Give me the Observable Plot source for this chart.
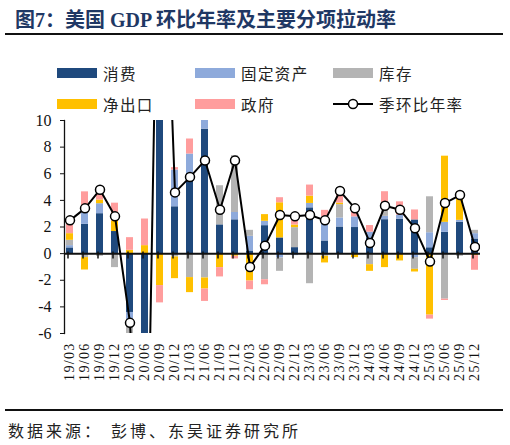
<!DOCTYPE html>
<html>
<head>
<meta charset="utf-8">
<script src="https://cdn.jsdelivr.net/npm/d3@7"></script>
<script src="https://cdn.jsdelivr.net/npm/@observablehq/plot@0.6"></script>
<style>
  html, body { margin: 0; padding: 0; background: #fff; }
  #page { position: relative; width: 510px; height: 445px; overflow: hidden; font-family: "Liberation Serif", "Noto Sans CJK SC", serif; color: #111; }
  #title { position: absolute; left: 15px; top: 4px; font-size: 20px; font-weight: bold; color: #1f3864; white-space: nowrap; }
  .rule { position: absolute; left: 5px; width: 498px; height: 2px; background: #111; }
  #legend { position: absolute; left: 57px; top: 57px; display: grid; grid-template-columns: 138px 138px 138px; grid-auto-rows: 31px; }
  .item { display: flex; align-items: center; font-family: "Noto Sans CJK SC", sans-serif; font-size: 15.5px; letter-spacing: 1.4px; color: #222; white-space: nowrap; }
  .sw { width: 40px; height: 10px; margin-right: 6px; flex: none; }
  #chart { position: absolute; left: 0; top: 110px; }
  #source { position: absolute; left: 8px; top: 418px; font-family: "Noto Sans CJK SC", sans-serif; font-size: 16px; letter-spacing: 3px; color: #222; white-space: nowrap; }
  #source span { margin-left: 8px; }
</style>
</head>
<body>
<div id="page">
  <div id="title">图7：美国 GDP 环比年率及主要分项拉动率</div>
  <div class="rule" style="top:33px"></div>
  <div id="legend"></div>
  <div id="chart"></div>
  <div class="rule" style="top:409px"></div>
  <div id="source">数据来源：<span>彭博、东吴证券研究所</span></div>
</div>
<script>
// Quarter labels (yy/mm)
const quarters = ["19/03","19/06","19/09","19/12","20/03","20/06","20/09","20/12",
  "21/03","21/06","21/09","21/12","22/03","22/06","22/09","22/12",
  "23/03","23/06","23/09","23/12","24/03","24/06","24/09","24/12",
  "25/03","25/06","25/09","25/12"];

// Contributions to annualized q/q real GDP growth, percentage points
const consumption = [0.43, 2.2, 3.0, 1.66, -4.42, -23.8, 25.2, 3.52,
  5.6, 9.35, 2.16, 2.54, 0.2, 2.1, 1.18, 0.45,
  3.44, 0.95, 2.0, 1.96, 1.18, 2.55, 2.59, 2.53,
  0.44, 1.6, 2.35, 1.1];
const fixedInvestment = [0.17, 0.88, 0.75, 0, -0.55, -5.3, 5.0, 2.76,
  1.88, 1.2, 0, 0.55, 1.1, 0.33, -0.33, -0.15,
  0.33, 1.8, 0.68, 0.8, 0.43, 0.25, 0.3, -0.3,
  1.13, 0.75, 0.15, 0.4];
const inventories = [0.4, -0.3, -0.2, -1.05, -1.43, -1.5, 8.3, -0.25,
  -1.8, -1.83, 2.94, 4.27, 0.45, -1.96, -1.0, 1.5,
  -2.26, -0.2, 1.0, 0, -0.83, 0.8, 0, -0.88,
  2.7, -3.42, -0.2, 0.25];
const netExports = [0.5, -0.93, 0.28, 0.8, 0.25, 0.6, -2.4, -1.63,
  -1.13, -0.83, -1.05, -0.2, -2.06, 0.5, 2.64, 0.2,
  0.55, -0.5, 0.12, -0.3, -0.5, -1.05, -0.55, -0.2,
  -4.62, 4.97, 2.1, -0.15];
const government = [0.95, 1.56, 0.95, 1.33, 0.95, 2.0, -1.3, 0.18,
  1.13, -0.93, -0.7, -0.2, -0.65, -0.38, 0.38, 0.75,
  0.83, 0.5, 0.85, 0.9, 0.5, 1.05, 1.0, 0.75,
  -0.3, -0.1, 0, -1.1];
// Real GDP, q/q annualized, %
const gdpGrowth = [2.5, 3.4, 4.8, 2.8, -5.2, -28.0, 34.8, 4.6,
  5.75, 7.0, 3.3, 7.0, -1.0, 0.6, 2.9, 2.8,
  2.9, 2.5, 4.7, 3.4, 0.8, 3.6, 3.3, 1.9,
  -0.6, 3.8, 4.4, 0.5];

const seriesNames = ["消费", "固定资产", "库存", "净出口", "政府"];
const seriesColors = ["#1f497d", "#8eaadb", "#b4b4b4", "#ffc000", "#ff9d9d"];
const lineName = "季环比年率";
const yTicks = [-6, -4, -2, 0, 2, 4, 6, 8, 10];

const seriesValues = [consumption, fixedInvestment, inventories, netExports, government];
const bars = seriesNames.flatMap((name, s) =>
  quarters.map((q, i) => ({quarter: q, series: name, value: seriesValues[s][i]})));
const gdp = quarters.map((q, i) => ({quarter: q, value: gdpGrowth[i]}));

// Legend: two rows of three entries, last entry is the GDP line
const legend = document.getElementById("legend");
seriesNames.forEach((name, i) => {
  const el = document.createElement("div");
  el.className = "item";
  el.innerHTML = `<span class="sw" style="background:${seriesColors[i]}"></span>${name}`;
  legend.appendChild(el);
});
{
  const el = document.createElement("div");
  el.className = "item";
  el.innerHTML = `<svg width="40" height="12" style="margin-right:6px;flex:none"><line x1="0" x2="40" y1="6" y2="6" stroke="#000" stroke-width="2"/><circle cx="20" cy="6" r="4.5" fill="#fff" stroke="#000" stroke-width="1.5"/></svg>${lineName}`;
  legend.appendChild(el);
}

const chart = Plot.plot({
  width: 510,
  height: 285,
  marginLeft: 64,
  marginRight: 30,
  marginTop: 10,
  marginBottom: 62,
  style: {fontFamily: "Liberation Serif, serif", color: "#111", background: "transparent"},
  x: {type: "band", domain: quarters, paddingInner: 0.53, paddingOuter: 0, axis: null},
  y: {domain: [-6, 10], axis: null},
  color: {domain: seriesNames, range: seriesColors},
  marks: [
    Plot.barY(bars, Plot.stackY({x: "quarter", y: "value", fill: "series", order: seriesNames, clip: true})),
    Plot.frame({anchor: "left", stroke: "#111", strokeWidth: 1.3}),
    Plot.axisY({ticks: yTicks, tickSize: 4, tickPadding: 9, tickFormat: d => String(d), fontSize: 16, stroke: "#111", label: null}),
    Plot.axisX({domain: quarters, tickSize: 0, tickRotate: -90, tickPadding: 9, fontSize: 14, anchor: "bottom", label: null}),
    Plot.ruleY([0], {stroke: "#111", strokeWidth: 2}),
    Plot.ruleX(quarters, {x: d => d, y1: 0.12, y2: -0.4, stroke: "#111", strokeWidth: 1.5, dx: -2}),
    Plot.lineY(gdp, {x: "quarter", y: "value", stroke: "#000", strokeWidth: 2, clip: true}),
    Plot.dot(gdp, {x: "quarter", y: "value", r: 4.5, fill: "#fff", stroke: "#000", strokeWidth: 1.5, clip: true})
  ]
});
// quarter labels are set a little wider apart, letter by letter
d3.select(chart).selectAll('g[aria-label="x-axis tick label"] text').style("letter-spacing", "1.3px");
document.getElementById("chart").appendChild(chart);
</script>
</body>
</html>
